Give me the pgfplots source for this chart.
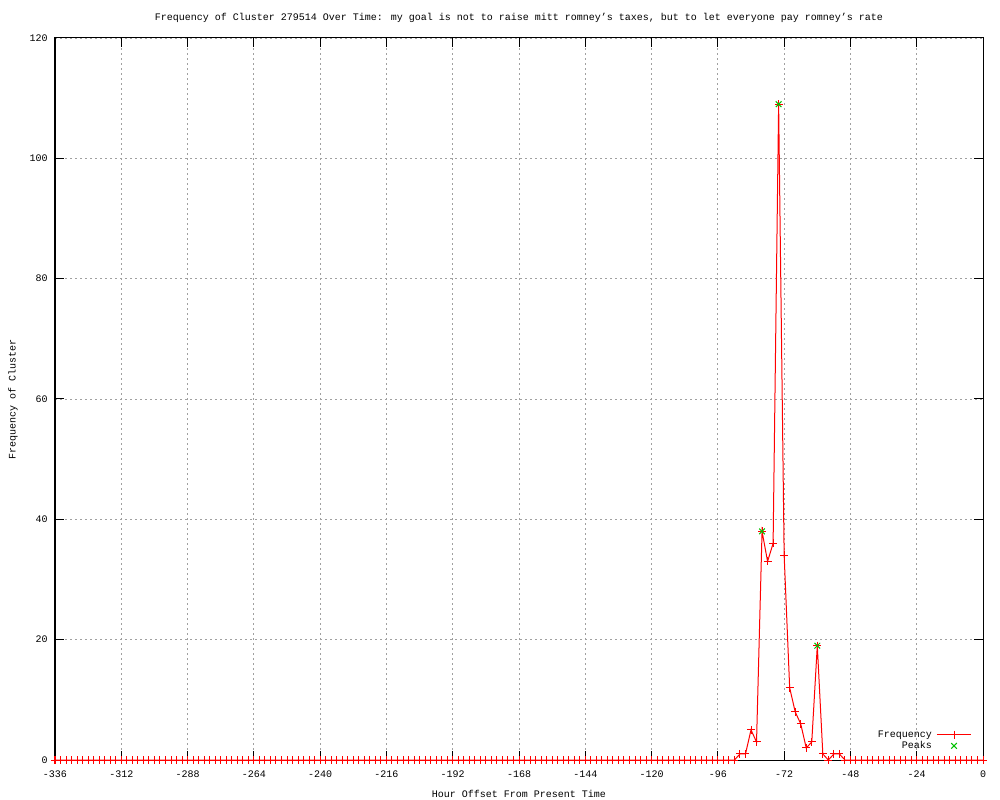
\documentclass[border=0pt]{standalone}
\usepackage{pgfplots}
\pgfplotsset{compat=1.18}
\usepackage{fontspec}
\setmainfont{Liberation Mono}
\definecolor{gpred}{RGB}{255,0,0}
\definecolor{gpgreen}{RGB}{0,192,0}
\definecolor{gridgray}{RGB}{160,160,160}
\pgfplotsset{
  freqlegend/.style={legend image code/.code={\draw[mark repeat=2,mark phase=2,##1] plot coordinates {(0cm,0cm) (0.45cm,0cm) (0.9cm,0cm)};}},
  peaklegend/.style={legend image code/.code={\draw[##1, only marks] plot coordinates {(0.45cm,0cm)};}},
}
\begin{document}
\begin{tikzpicture}[font=\fontsize{7.5}{9}\selectfont]
\useasboundingbox (-41.25pt,-30pt) rectangle (708.75pt,570pt);
\begin{axis}[
  at={(0,0)}, anchor=south west,
  scale only axis, width=696pt, height=541.5pt,
  xmin=-336, xmax=0, ymin=0, ymax=120,
  xtick={-336,-312,...,0}, ytick={0,20,...,120},
  /pgf/number format/assume math mode=true,
  tick align=inside, major tick length=7pt, tick style={black, line width=0.75pt},
  axis line style={black, line width=0.75pt},
  grid=major, major grid style={gridgray, line width=0.6pt, dash pattern=on 1.5pt off 2.25pt},
  xticklabel style={anchor=center, yshift=-10.5pt, inner sep=0pt},
  yticklabel style={anchor=east, xshift=-5.25pt, inner sep=0pt},
  every axis title shift=0pt,
  title={Frequency of Cluster 279514 Over Time: my goal is not to raise mitt romney's taxes, but to let everyone pay romney's rate},
  title style={at={(axis description cs:0.5,1.0277)}, anchor=center, inner sep=0pt, yshift=0pt},
  xlabel={Hour Offset From Present Time},
  xlabel style={at={(axis description cs:0.5,-0.047)}, anchor=center, inner sep=0pt},
  ylabel={Frequency of Cluster},
  ylabel style={at={(axis description cs:-0.0453,0.5)}, anchor=center, inner sep=0pt},
  clip=false,
  legend plot pos=right, legend cell align=right,
  legend style={at={(axis description cs:0.988,0.043)}, anchor=north east, draw=none, fill=none, inner sep=0pt, row sep=0.5pt, column sep=3pt,
    nodes={inner sep=0.5pt, text height=5.5pt, text depth=1.5pt}, font=\fontsize{7.5}{9}\selectfont},
]
\addplot[gpred, line width=0.75pt, mark=+, mark size=3pt, mark options={line width=0.75pt}, freqlegend]
coordinates {
(-336,0) (-334,0) (-332,0) (-330,0) (-328,0) (-326,0) (-324,0) (-322,0) (-320,0) (-318,0)
(-316,0) (-314,0) (-312,0) (-310,0) (-308,0) (-306,0) (-304,0) (-302,0) (-300,0) (-298,0)
(-296,0) (-294,0) (-292,0) (-290,0) (-288,0) (-286,0) (-284,0) (-282,0) (-280,0) (-278,0)
(-276,0) (-274,0) (-272,0) (-270,0) (-268,0) (-266,0) (-264,0) (-262,0) (-260,0) (-258,0)
(-256,0) (-254,0) (-252,0) (-250,0) (-248,0) (-246,0) (-244,0) (-242,0) (-240,0) (-238,0)
(-236,0) (-234,0) (-232,0) (-230,0) (-228,0) (-226,0) (-224,0) (-222,0) (-220,0) (-218,0)
(-216,0) (-214,0) (-212,0) (-210,0) (-208,0) (-206,0) (-204,0) (-202,0) (-200,0) (-198,0)
(-196,0) (-194,0) (-192,0) (-190,0) (-188,0) (-186,0) (-184,0) (-182,0) (-180,0) (-178,0)
(-176,0) (-174,0) (-172,0) (-170,0) (-168,0) (-166,0) (-164,0) (-162,0) (-160,0) (-158,0)
(-156,0) (-154,0) (-152,0) (-150,0) (-148,0) (-146,0) (-144,0) (-142,0) (-140,0) (-138,0)
(-136,0) (-134,0) (-132,0) (-130,0) (-128,0) (-126,0) (-124,0) (-122,0) (-120,0) (-118,0)
(-116,0) (-114,0) (-112,0) (-110,0) (-108,0) (-106,0) (-104,0) (-102,0) (-100,0) (-98,0)
(-96,0) (-94,0) (-92,0) (-90,0)
(-88,1) (-86,1) (-84,5) (-82,3) (-80,38) (-78,33) (-76,36) (-74,109) (-72,34) (-70,12)
(-68,8) (-66,6) (-64,2) (-62,3) (-60,19) (-58,1) (-56,0) (-54,1) (-52,1)
(-50,0) (-48,0) (-46,0) (-44,0) (-42,0) (-40,0) (-38,0) (-36,0) (-34,0) (-32,0)
(-30,0) (-28,0) (-26,0) (-24,0) (-22,0) (-20,0) (-18,0) (-16,0) (-14,0) (-12,0)
(-10,0) (-8,0) (-6,0) (-4,0) (-2,0) (0,0)
};
\addlegendentry{Frequency}
\addplot[gpgreen, only marks, mark=x, mark size=3pt, mark options={line width=0.75pt}, peaklegend]
coordinates {(-80,38) (-74,109) (-60,19)};
\addlegendentry{Peaks}
\end{axis}
\end{tikzpicture}
\end{document}
